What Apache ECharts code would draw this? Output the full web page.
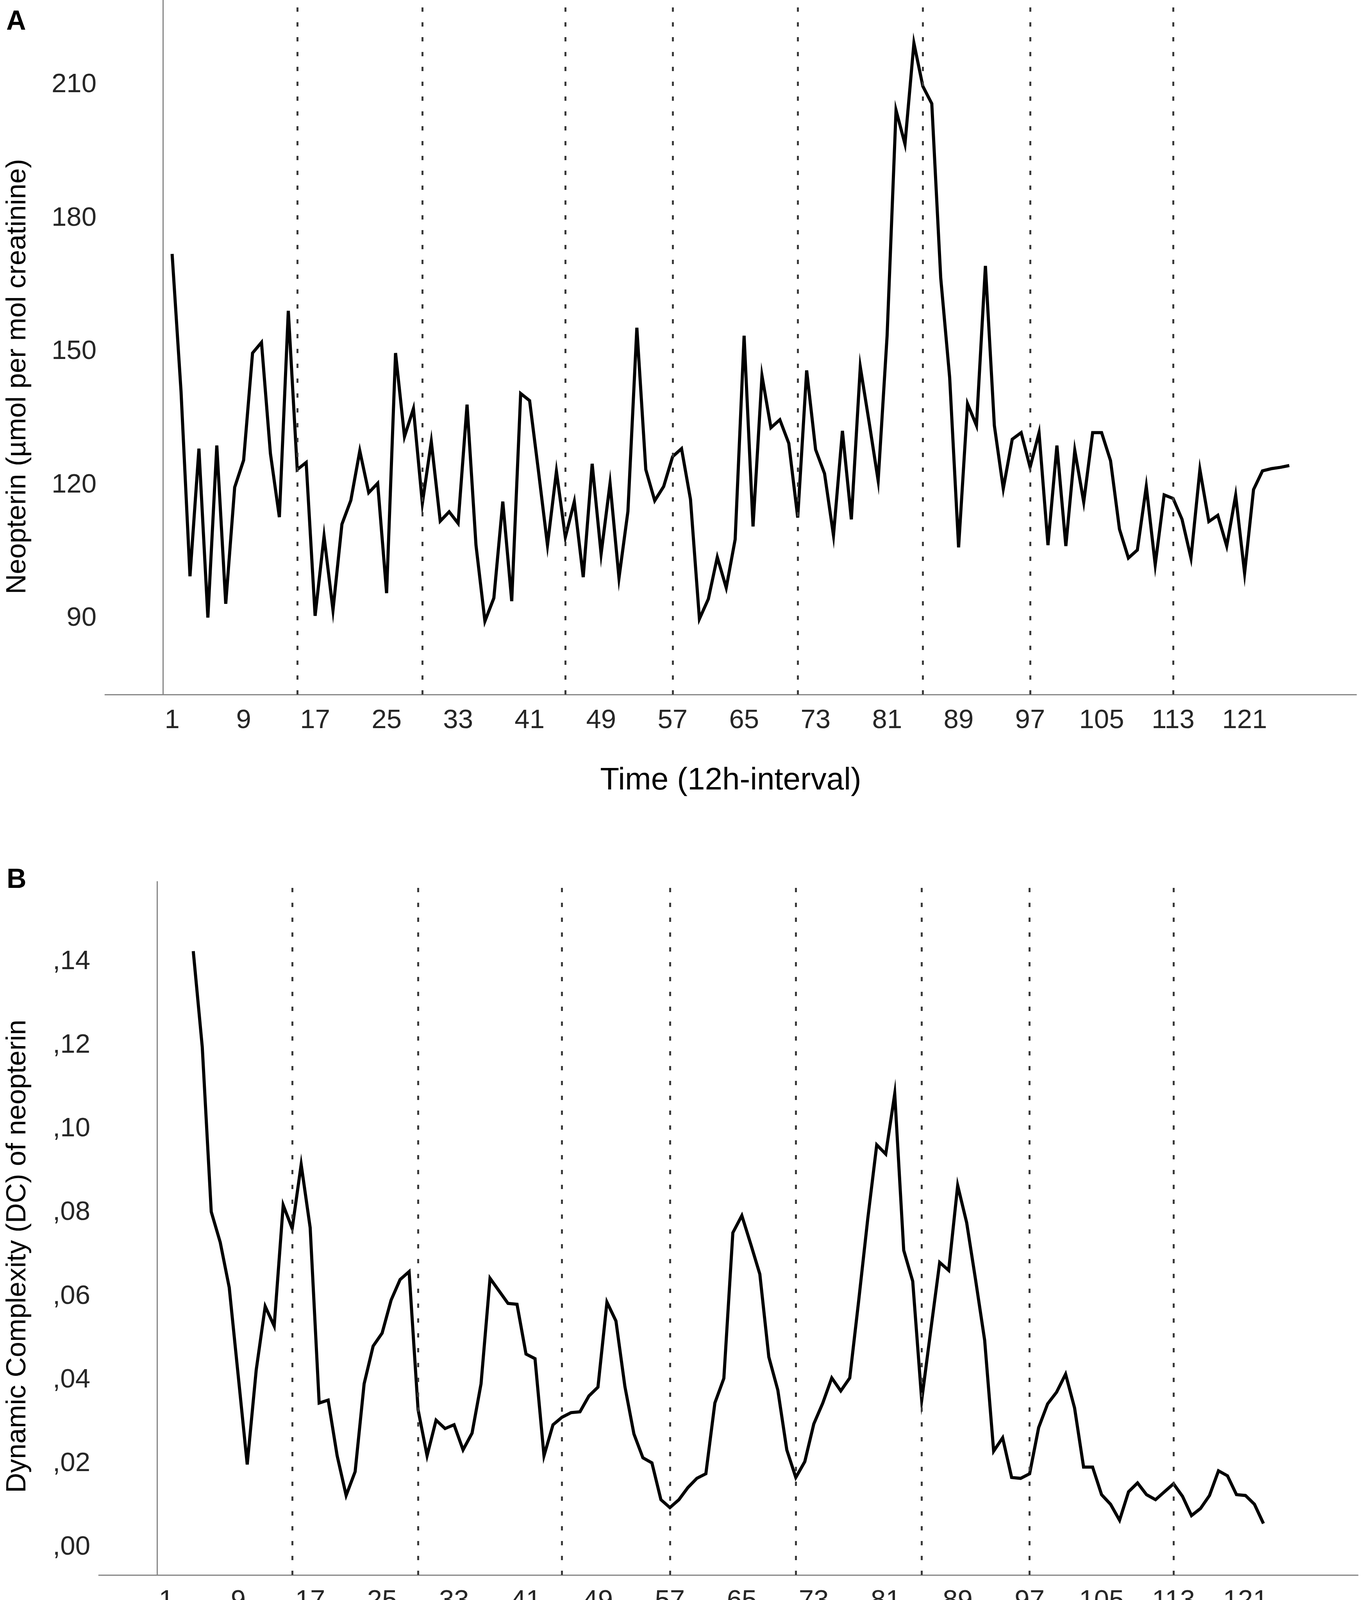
<!DOCTYPE html>
<html>
<head>
<meta charset="utf-8">
<script src="https://cdn.jsdelivr.net/npm/echarts@6/dist/echarts.min.js"></script>
<style>
  html, body { margin: 0; padding: 0; background: #ffffff; }
  #chart { width: 3484px; height: 4296px; }
</style>
</head>
<body>
<div id="chart"></div>
<script>
// ---------- DATA ----------
// Panel A: neopterin per 12h interval, starting at interval 1
const startA = 1;
const neopterin = [
  172.0, 141.0, 99.5, 128.2, 90.2, 128.9, 93.3, 119.5, 125.6, 149.7,
  152.1, 127.1, 112.8, 159.2, 123.5, 125.1, 90.6, 108.5, 91.9, 111.2,
  116.6, 127.7, 118.3, 120.4, 95.7, 149.7, 130.9, 137.2, 115.9, 129.8,
  111.9, 114.0, 111.4, 138.1, 106.5, 89.4, 94.6, 116.3, 93.9, 140.6,
  139.0, 123.0, 106.5, 123.1, 108.3, 116.3, 99.3, 124.8, 104.5, 120.4,
  99.1, 114.1, 155.4, 123.5, 116.5, 119.7, 126.4, 128.2, 116.8, 89.9,
  94.4, 103.8, 96.9, 107.8, 153.6, 110.7, 144.6, 132.9, 134.7, 129.4,
  112.7, 145.8, 128.0, 122.6, 108.7, 132.2, 112.3, 146.6, 134.0, 121.0,
  153.6, 204.3, 196.7, 219.4, 209.7, 205.8, 166.6, 144.2, 106.0, 138.3,
  133.4, 169.3, 133.4, 119.2, 130.3, 131.8, 124.0, 131.8, 106.5, 128.9,
  106.3, 127.8, 116.2, 131.8, 131.8, 125.5, 110.1, 103.6, 105.4, 119.7,
  102.1, 117.8, 117.0, 112.3, 103.6, 123.5, 111.8, 113.2, 106.3, 117.7,
  100.2, 119.0, 123.2, 123.7, 124.0, 124.4
];
// Panel B: dynamic complexity, starting at interval 4
const startB = 4;
const dynComplexity = [
  0.1425, 0.1196, 0.0802, 0.0729, 0.0621, 0.0410, 0.0198, 0.0424, 0.0576, 0.0529,
  0.0818, 0.0762, 0.0915, 0.0764, 0.0345, 0.0352, 0.0219, 0.0124, 0.0181, 0.0391,
  0.0481, 0.0512, 0.0591, 0.0640, 0.0659, 0.0329, 0.0219, 0.0304, 0.0284, 0.0293,
  0.0233, 0.0273, 0.0391, 0.0643, 0.0613, 0.0583, 0.0581, 0.0462, 0.0451, 0.0219,
  0.0293, 0.0311, 0.0322, 0.0324, 0.0362, 0.0383, 0.0586, 0.0541, 0.0384, 0.0271,
  0.0214, 0.0202, 0.0114, 0.0095, 0.0114, 0.0143, 0.0165, 0.0176, 0.0345, 0.0404,
  0.0752, 0.0793, 0.0724, 0.0653, 0.0455, 0.0376, 0.0233, 0.0167, 0.0205, 0.0295,
  0.0345, 0.0405, 0.0374, 0.0405, 0.0591, 0.0785, 0.0962, 0.0940, 0.1084, 0.0710,
  0.0636, 0.0352, 0.0518, 0.0681, 0.0662, 0.0865, 0.0776, 0.0638, 0.0495, 0.0230,
  0.0262, 0.0167, 0.0165, 0.0176, 0.0286, 0.0343, 0.0371, 0.0414, 0.0333, 0.0192,
  0.0192, 0.0126, 0.0103, 0.0065, 0.0133, 0.0154, 0.0126, 0.0114, 0.0133, 0.0152,
  0.0122, 0.0076, 0.0093, 0.0124, 0.0183, 0.0171, 0.0126, 0.0124, 0.0103, 0.0057
];
// Vertical dotted reference lines (time intervals)
const refLines = [15, 29, 45, 57, 71, 85, 97, 113];
// Tick labels
const xTicks = [1, 9, 17, 25, 33, 41, 49, 57, 65, 73, 81, 89, 97, 105, 113, 121];
const yTicksA = [90, 120, 150, 180, 210];
const yTicksB = [0, 0.02, 0.04, 0.06, 0.08, 0.10, 0.12, 0.14];

// ---------- CHART ----------
const FONT = 'Arial, "Liberation Sans", sans-serif';
const seriesA = neopterin.map((v, i) => [startA + i, v]);
const seriesB = dynComplexity.map((v, i) => [startB + i, v]);

const axisLineStyle = { color: '#858585', width: 3 };
const tickLabel = { color: '#262626', fontSize: 69, fontFamily: FONT };

function xAxisCfg(gridIndex) {
  return {
    type: 'value', gridIndex: gridIndex,
    min: -6.5, max: 133.5,
    axisLine: { show: true, onZero: false, lineStyle: axisLineStyle },
    axisTick: { show: false },
    splitLine: { show: false },
    axisLabel: Object.assign({ customValues: xTicks, margin: 32 }, tickLabel),
    name: 'Time (12h-interval)',
    nameLocation: 'middle',
    nameGap: 181,
    nameTextStyle: { color: '#000', fontSize: 80, fontFamily: FONT }
  };
}

function refMarkLine() {
  return {
    silent: true,
    symbol: ['none', 'none'],
    label: { show: false },
    animation: false,
    lineStyle: { color: '#3a3a3a', width: 5, type: [11, 27] },
    data: refLines.map(x => ({ xAxis: x }))
  };
}

const chart = echarts.init(document.getElementById('chart'), null, { renderer: 'canvas' });
chart.setOption({
  backgroundColor: '#ffffff',
  animation: false,
  grid: [
    { left: 269, top: 0, width: 3203, height: 1778 },
    { left: 253, top: 2257, width: 3223, height: 1775 }
  ],
  xAxis: [xAxisCfg(0), xAxisCfg(1)],
  yAxis: [
    {
      type: 'value', gridIndex: 0, min: 72.9, max: 229.1,
      axisLine: { show: true, lineStyle: axisLineStyle },
      axisTick: { show: false }, splitLine: { show: false },
      axisLabel: Object.assign({ customValues: yTicksA, margin: 22 }, tickLabel)
    },
    {
      type: 'value', gridIndex: 1, min: -0.0066, max: 0.1591,
      axisLine: { show: true, lineStyle: axisLineStyle },
      axisTick: { show: false }, splitLine: { show: false },
      axisLabel: Object.assign({
        customValues: yTicksB, margin: 22,
        formatter: v => ',' + Number(v).toFixed(2).split('.')[1]
      }, tickLabel)
    }
  ],
  graphic: [
    { type: 'text', left: 16, top: 22, style: { text: 'A', font: 'bold 70px ' + FONT, fill: '#000' } },
    { type: 'text', left: 17, top: 2219, style: { text: 'B', font: 'bold 70px ' + FONT, fill: '#000' } },
    { type: 'text', x: 45, y: 964, rotation: Math.PI / 2,
      style: { text: 'Neopterin (\u00b5mol per mol creatinine)', font: '71px ' + FONT, fill: '#000',
               textAlign: 'center', textVerticalAlign: 'middle' } },
    { type: 'text', x: 45, y: 3216, rotation: Math.PI / 2,
      style: { text: 'Dynamic Complexity (DC) of neopterin', font: '71px ' + FONT, fill: '#000',
               textAlign: 'center', textVerticalAlign: 'middle' } }
  ],
  series: [
    {
      type: 'line', xAxisIndex: 0, yAxisIndex: 0, data: seriesA,
      showSymbol: false, symbol: 'none',
      lineStyle: { color: '#000', width: 8, join: 'miter' },
      markLine: refMarkLine(), z: 3
    },
    {
      type: 'line', xAxisIndex: 1, yAxisIndex: 1, data: seriesB,
      showSymbol: false, symbol: 'none',
      lineStyle: { color: '#000', width: 8, join: 'miter' },
      markLine: refMarkLine(), z: 3
    }
  ]
});
</script>
</body>
</html>
